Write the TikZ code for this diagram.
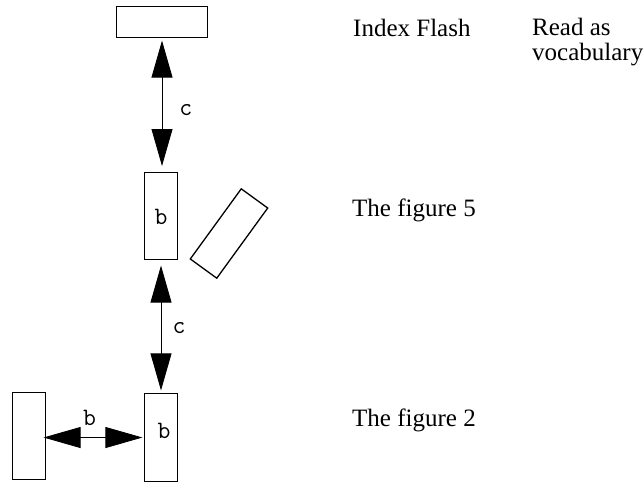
\documentclass[tikz,border=0pt]{standalone}
\usepackage{fontspec}
\setmainfont{Liberation Serif}
\usetikzlibrary{arrows.meta,positioning}
\begin{document}
\begin{tikzpicture}[x=1pt,y=-1pt,>={Triangle[length=37pt,width=21pt]},every node/.style={font=\fontsize{25}{25}\selectfont,inner sep=0pt},box/.style={draw,line width=1.3pt,minimum width=32.7pt,minimum height=86.7pt},lab/.style={font=\fontsize{25}{25}\selectfont\ttfamily},txt/.style={anchor=base west,align=left}]
\useasboundingbox (0,0) rectangle (644,483);
\node[box,minimum width=90.7pt,minimum height=30.7pt] (F1) at (162,22) {};
\node[box] (F2) at (161,216) {};
\node[box,rotate=-36] (F5) at (229,233.5) {};
\node[box,minimum height=87.7pt] (F3) at (161,437.5) {};
\node[box] (F4) at (29,436) {};
\node[lab] (b1) at (161,217) {b};
\node[lab] (b2) at (164,430.5) {b};
\node[lab] (c1) at (185.7,110) {c};
\node[lab] (c2) at (179,328) {c};
\node[lab] (b3) at (89.5,418) {b};
\node[txt] (T1) at (353,36) {Index Flash};
\node[txt] (T2) at (532,60.5) {Read as\\vocabulary};
\node[txt] (T3) at (352,216) {The figure 5};
\node[txt] (T4) at (352,426) {The figure 2};
\draw[<->,line width=0.8pt,shorten <=2.6pt,shorten >=6pt](F1.south)--(F1.south|-F2.north);
\draw[<->,line width=0.8pt,shorten <=5.6pt,shorten >=2.6pt](F2.south)--(F3.north);
\draw[<->,line width=0.8pt,shorten <=1.6pt,shorten >=-2.4pt](F3.west)--(F3.west-|F4.east);
\end{tikzpicture}
\end{document}
